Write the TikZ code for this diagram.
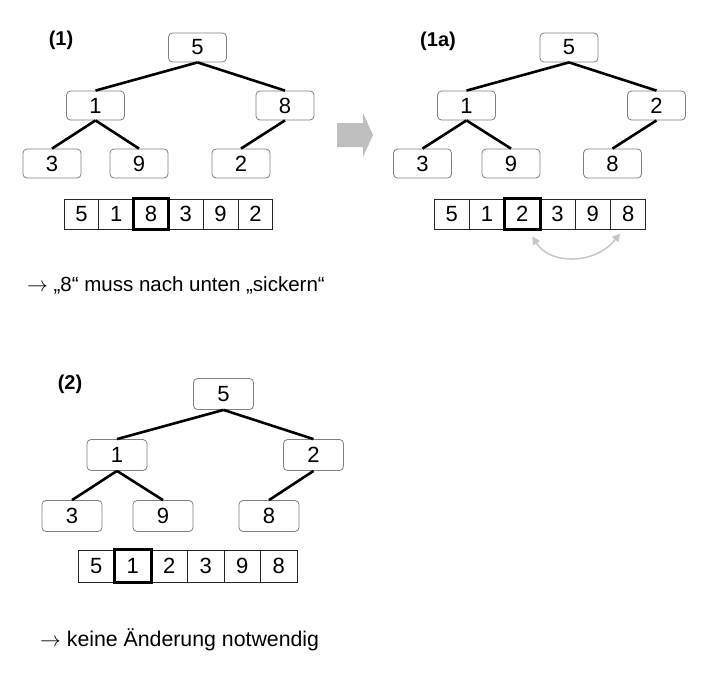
\documentclass[tikz,border=0pt]{standalone}
\usepackage{fontspec}
\setmainfont{Liberation Sans}
\usetikzlibrary{arrows.meta}

\tikzset{
  tnode/.style={draw=black!50, line width=0.8pt, rounded corners=4pt, fill=white,
    minimum width=58pt, minimum height=29pt, inner sep=0pt,
    font=\fontsize{22}{22}\selectfont},
  tnodeB/.style={tnode, minimum width=60pt, minimum height=31pt},
  tedge/.style={line width=2.6pt, black},
  cell/.style={draw=black!85, line width=0.8pt, minimum width=34.8pt,
    minimum height=30pt, inner sep=0pt, font=\fontsize{22}{22}\selectfont},
  cellB/.style={cell, minimum width=36.5pt, minimum height=32pt},
  hl/.style={line width=3pt, black},
  lbl/.style={font=\bfseries\fontsize{20}{20}\selectfont, inner sep=0pt},
  note/.style={anchor=base west, inner sep=0pt, font=\fontsize{20.5}{24}\selectfont},
  swap/.style={line width=1.5pt, black!22, {Triangle[length=8pt,width=8pt]}-{Triangle[length=8pt,width=8pt]}},
}

\begin{document}
\begin{tikzpicture}[x=1pt, y=-1pt]
\useasboundingbox (0,0) rectangle (704,672);

% ---------- (1) initial heap ----------
\node[lbl] (l1) at (61,40) {(1)};
\node[tnode] (r1) at (197.5,47.5) {5};
\node[tnode] (a1) at (95.5,105.5) {1};
\node[tnode] (b1) at (285,105.5) {8};
\node[tnode] (c1) at (52,163.5) {3};
\node[tnode] (d1) at (139,163.5) {9};
\node[tnode] (e1) at (241,163.5) {2};
\draw[tedge] (r1.south) -- (a1.north);
\draw[tedge] (r1.south) -- (b1.north);
\draw[tedge] (a1.south) -- (c1.north);
\draw[tedge] (a1.south) -- (d1.north);
\draw[tedge] (b1.south) -- (e1.north);
\foreach \v [count=\i] in {5,1,8,3,9,2}
  \node[cell] (pa\i) at (64+34.8*\i-17.4,214) {\v};
\draw[hl] (pa3.north west) rectangle (pa3.south east);

% ---------- transition arrow ----------
\fill[black!25] (337,123) -- (363,123) -- (363,113) -- (373,135)
  -- (363,157) -- (363,147) -- (337,147) -- cycle;

% ---------- (1a) after swapping 8 and 2 ----------
\node[lbl] (l1a) at (438,41) {(1a)};
\node[tnode] (r2) at (569,47.5) {5};
\node[tnode] (a2) at (466.5,105.5) {1};
\node[tnode] (b2) at (656.5,105.5) {2};
\node[tnode] (c2) at (422.5,163.5) {3};
\node[tnode] (d2) at (511,163.5) {9};
\node[tnode] (e2) at (612.5,163.5) {8};
\draw[tedge] (r2.south) -- (a2.north);
\draw[tedge] (r2.south) -- (b2.north);
\draw[tedge] (a2.south) -- (c2.north);
\draw[tedge] (a2.south) -- (d2.north);
\draw[tedge] (b2.south) -- (e2.north);
\foreach \v [count=\i] in {5,1,2,3,9,8}
  \node[cell, minimum width=35.3pt] (pb\i) at (434+35.3*\i-17.65,214) {\v};
\draw[hl] (pb3.north west) rectangle (pb3.south east);
\draw[swap] ([xshift=10pt,yshift=-7pt]pb3.south) .. controls (550,265) and (595,265)
  .. ([xshift=-8pt,yshift=-4pt]pb6.south);

\node[note] (t1) at (27,291.5) {$\rightarrow$ „8“ muss nach unten „sickern“};

% ---------- (2) next step ----------
\node[lbl] (l2) at (70,384) {(2)};
\node[tnodeB] (r3) at (223.5,394) {5};
\node[tnodeB] (a3) at (117,455) {1};
\node[tnodeB] (b3) at (313.5,455) {2};
\node[tnodeB] (c3) at (72,516) {3};
\node[tnodeB] (d3) at (163,516) {9};
\node[tnodeB] (e3) at (269,516) {8};
\draw[tedge] (r3.south) -- (a3.north);
\draw[tedge] (r3.south) -- (b3.north);
\draw[tedge] (a3.south) -- (c3.north);
\draw[tedge] (a3.south) -- (d3.north);
\draw[tedge] (b3.south) -- (e3.north);
\foreach \v [count=\i] in {5,1,2,3,9,8}
  \node[cellB] (pc\i) at (78+36.5*\i-18.25,566) {\v};
\draw[hl] (pc2.north west) rectangle (pc2.south east);

\node[note, font=\fontsize{21.3}{24}\selectfont] (t2) at (40,646.5) {$\rightarrow$ keine Änderung notwendig};
\end{tikzpicture}
\end{document}
